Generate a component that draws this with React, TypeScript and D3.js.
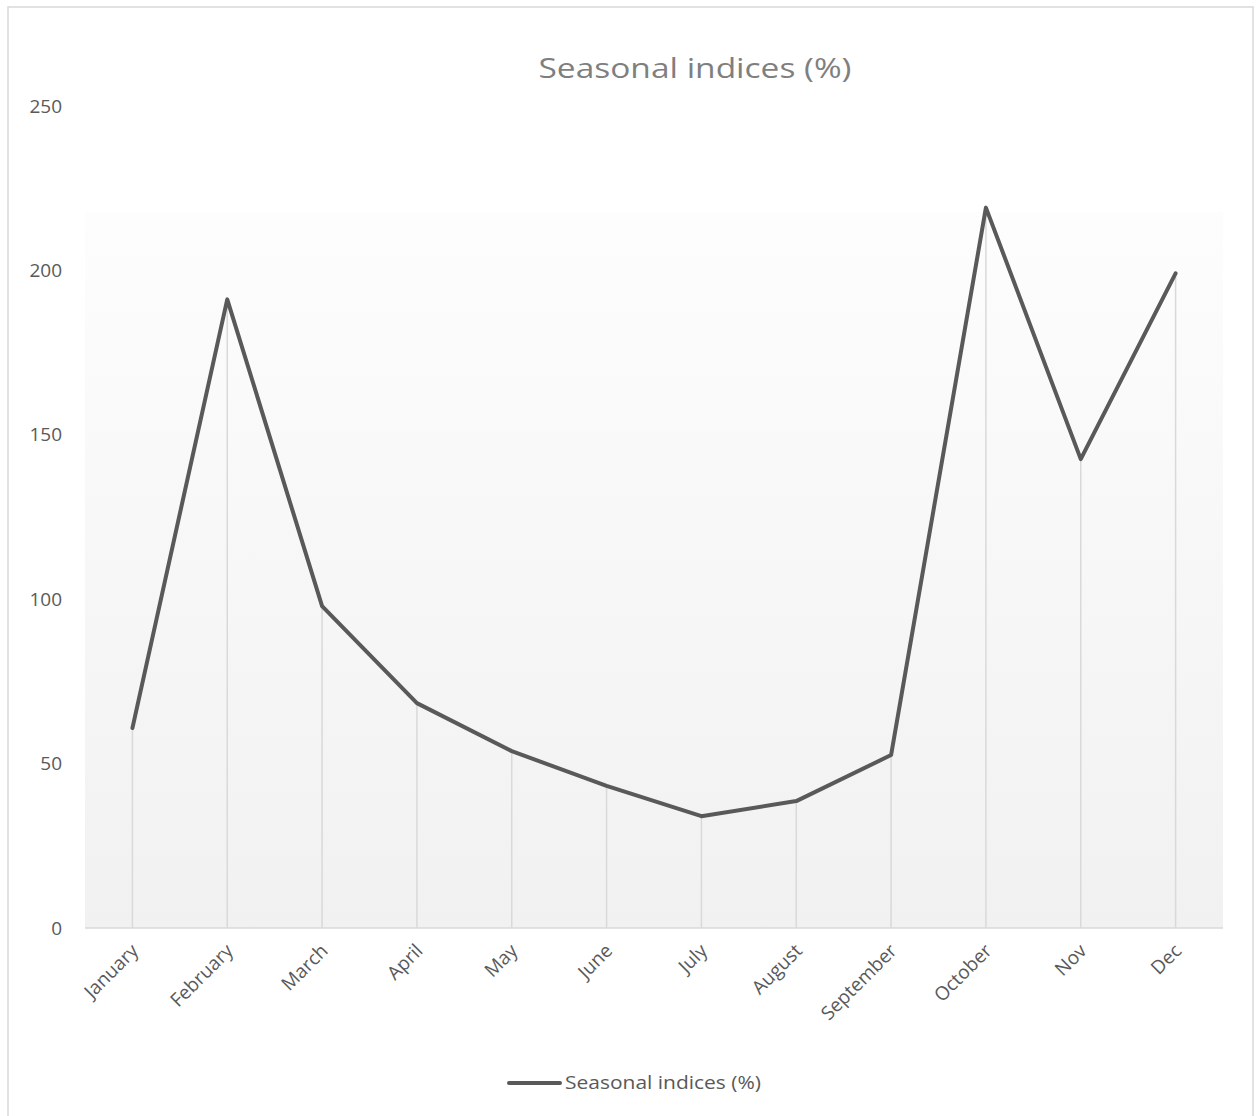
import React from "react";
import * as d3 from "d3";

const months = ["January", "February", "March", "April", "May", "June", "July", "August", "September", "October", "Nov", "Dec"];
const seasonalIndices = [60.8, 191.2, 97.9, 68.4, 53.8, 43.2, 34.0, 38.6, 52.6, 219.1, 142.6, 199.1];
const yTicks = [0, 50, 100, 150, 200, 250];
const seriesName = "Seasonal indices (%)";
const chartTitle = "Seasonal indices (%)";

const W = 1259;
const H = 1116;
const left = 85;
const right = 1223;
const top = 106;
const bottom = 928;

export default function App() {
  const x = d3.scaleBand<string>().domain(months).range([left, right]);
  const y = d3.scaleLinear().domain([0, 250]).range([bottom, top]);
  const cx = (m: string) => (x(m) as number) + x.bandwidth() / 2;
  const line = d3
    .line<number>()
    .x((_, i) => cx(months[i]))
    .y((d) => y(d));
  const font = "'Open Sans', 'Noto Sans', sans-serif";
  return (
    <svg
      width={W}
      height={H}
      style={{ position: "absolute", left: 0, top: 0, background: "#fff" }}
    >
      <defs>
        <linearGradient id="pa" x1="0" y1="0" x2="0" y2="1">
          <stop offset="0" stopColor="#fdfdfd" />
          <stop offset="1" stopColor="#f1f1f1" />
        </linearGradient>
      </defs>
      <rect x={8} y={7} width={1245} height={1120} fill="#fff" stroke="#d9d9d9" strokeWidth={1.5} />
      <rect x={left} y={212} width={right - left} height={bottom - 212} fill="url(#pa)" />
      <text
        x={695}
        y={78}
        textAnchor="middle"
        fontFamily={font}
        fontSize={27}
        fill="#7f7f7f"
        textLength={313}
        lengthAdjust="spacingAndGlyphs"
      >
        {chartTitle}
      </text>
      {yTicks.map((t) => (
        <text
          key={t}
          x={62}
          y={y(t)}
          dy="0.35em"
          textAnchor="end"
          fontFamily={font}
          fontSize={19}
          fill="#595959"
        >
          {t}
        </text>
      ))}
      {months.map((m, i) => (
        <line
          key={m}
          x1={cx(m)}
          x2={cx(m)}
          y1={y(seasonalIndices[i])}
          y2={bottom}
          stroke="#d9d9d9"
          strokeWidth={1.5}
        />
      ))}
      <line x1={left} x2={right} y1={bottom} y2={bottom} stroke="#d9d9d9" strokeWidth={1.5} />
      {months.map((m) => (
        <text
          key={m}
          transform={`translate(${cx(m) + 7},${bottom + 24}) rotate(-45)`}
          textAnchor="end"
          fontFamily={font}
          fontSize={19}
          fill="#595959"
        >
          {m}
        </text>
      ))}
      <path
        d={line(seasonalIndices) || ""}
        fill="none"
        stroke="#595959"
        strokeWidth={4}
        strokeLinejoin="round"
        strokeLinecap="round"
      />
      <line x1={509} x2={560} y1={1083} y2={1083} stroke="#595959" strokeWidth={4} strokeLinecap="round" />
      <text
        x={565}
        y={1083}
        dy="0.35em"
        fontFamily={font}
        fontSize={18}
        fill="#595959"
        textLength={196}
        lengthAdjust="spacingAndGlyphs"
      >
        {seriesName}
      </text>
    </svg>
  );
}
